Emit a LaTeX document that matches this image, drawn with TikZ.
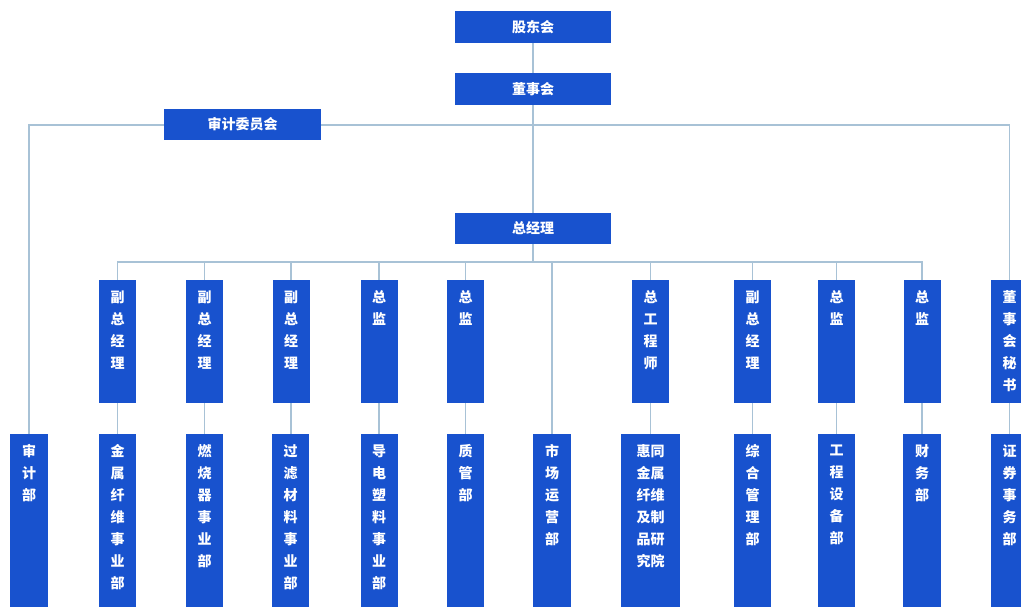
\documentclass[tikz,border=0pt]{standalone}
\usepackage{fontspec}
\setmainfont{Noto Sans CJK SC}
\usetikzlibrary{calc,backgrounds}
\definecolor{boxblue}{HTML}{1852CE}
\definecolor{linec}{HTML}{A8C2D6}
\tikzset{
  box/.style={draw=none, fill=boxblue, minimum width=37pt, inner sep=0pt, outer sep=0pt},
  hbox/.style={box, minimum width=156pt, minimum height=32pt, text=white, font=\fontsize{14}{14}\selectfont\bfseries},
  vtext/.style={anchor=north, text=white, inner sep=0pt, align=center, font=\fontsize{14}{22}\selectfont\bfseries},
  conn/.style={draw=linec, line width=1.1pt}
}
\begin{document}
\begin{tikzpicture}[x=1pt,y=-1pt]
\useasboundingbox (0,0) rectangle (1021,607);

% top-level boxes
\node[hbox] (gd) at (533,27) {股东会};
\node[hbox] (dsh) at (533,89) {董事会};
\node[hbox, minimum width=157pt, minimum height=31pt] (sjw) at (242.5,124.5) {审计委员会};
\node[hbox, minimum height=31pt] (zjl) at (533,228.5) {总经理};

% second row (top at 280)
\foreach \n/\x/\t in {
  m1/117.5/{副\\总\\经\\理},
  m2/204.5/{副\\总\\经\\理},
  m3/291/{副\\总\\经\\理},
  m4/379/{总\\监},
  m5/465.5/{总\\监},
  m6/650.5/{总\\工\\程\\师},
  m7/752.5/{副\\总\\经\\理},
  m8/836.5/{总\\监},
  m9/922/{总\\监},
  m10/1009.5/{董\\事\\会\\秘\\书}}{
  \node[box, minimum height=123pt] (\n) at (\x,341.5) {};
  \node[vtext] at ($(\n.north)+(0,10.5)$) {\t};
}

% bottom row (top at 434)
\foreach \n/\x/\w/\t in {
  d0/29/38/{审\\计\\部},
  d1/117.5/37/{金\\属\\纤\\维\\事\\业\\部},
  d2/204.5/37/{燃\\烧\\器\\事\\业\\部},
  d3/290.5/37/{过\\滤\\材\\料\\事\\业\\部},
  d4/379/37/{导\\电\\塑\\料\\事\\业\\部},
  d5/465.5/37/{质\\管\\部},
  d6/552/38/{市\\场\\运\\营\\部},
  d7/650.5/59/{惠同\\金属\\纤维\\及制\\品研\\究院},
  d8/752.5/37/{综\\合\\管\\理\\部},
  d9/836.5/37/{工\\程\\设\\备\\部},
  d10/922/38/{财\\务\\部},
  d11/1009.5/37/{证\\券\\事\\务\\部}}{
  \node[box, minimum width=\w pt, minimum height=186pt] (\n) at (\x,527) {};
  \node[vtext] at ($(\n.north)+(0,10.5)$) {\t};
}

% connectors
\coordinate (bus) at (533,262);
\coordinate (topbus) at (533,125);
\begin{scope}[on background layer]
\fill[white] (0,0) rectangle (1021,607);
\draw[conn] (gd.south) -- (dsh.north);
\draw[conn] (dsh.south) -- (zjl.north);
\draw[conn] (d0.north) |- (topbus) -| (m10.north);
\draw[conn] (zjl.south) -- (bus);
\draw[conn] (m1.north) |- (bus) -| (m9.north);
\foreach \n in {m2,m3,m4,m5,m6,m7,m8}{
  \draw[conn] (\n.north) -- (\n.north |- bus);
}
\draw[conn] (d6.north) -- (d6.north |- bus);
\foreach \a/\b in {m1/d1,m2/d2,m3/d3,m4/d4,m5/d5,m6/d7,m7/d8,m8/d9,m9/d10,m10/d11}{
  \draw[conn] (\a.south) -- (\a.south |- \b.north);
}
\end{scope}
\end{tikzpicture}
\end{document}
